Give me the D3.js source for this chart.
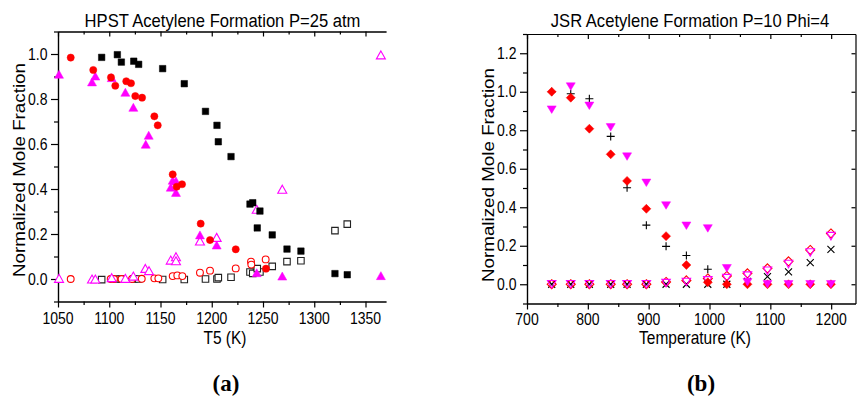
<!DOCTYPE html>
<html><head><meta charset="utf-8">
<script src="https://cdn.jsdelivr.net/npm/d3@7"></script>
<style>body{margin:0;background:#fff}svg{display:block}</style>
</head><body>
<svg id="c" width="857" height="397"></svg>
<script>
// ---------------- DATA ----------------
// (a) HPST, P=25 atm  -- x: T5 (K), y: normalized mole fraction
const hpstTitle = "HPST Acetylene Formation P=25 atm";
const hpstXTicks = [1050,1100,1150,1200,1250,1300,1350];
const hpstYTicks = [0.0,0.2,0.4,0.6,0.8,1.0];

const sqFilledT = [1092.6,1107.9,1111.8,1123.9,1128.7,1152.1,1173.2,1193.9,1205.1,1206.4,1218.8,1237.3,1240.0,1247.0,1244.4,1259.0,1273.4,1287.0,1320.2,1332.2];
const sqFilledV = [0.985,0.997,0.964,0.968,0.954,0.935,0.868,0.745,0.683,0.610,0.544,0.333,0.339,0.302,0.227,0.196,0.133,0.124,0.024,0.019];
const sqOpenT   = [1092.6,1107.9,1111.8,1123.9,1128.7,1152.1,1173.2,1193.9,1205.1,1206.4,1218.8,1237.3,1240.0,1247.0,1244.4,1259.0,1273.4,1287.0,1320.2,1332.2];
const sqOpenV   = [-0.003,0,0,0,0,-0.002,-0.002,0,0,0.006,0.008,0.031,0.025,0.031,0.046,0.056,0.077,0.081,0.215,0.244];

const ciFilledT = [1062.4,1084.4,1101.7,1105.9,1116.6,1121.2,1125.4,1132.0,1144.0,1147.3,1161.9,1165.8,1171.0,1189.2,1198.3,1223.4,1252.9];
const ciFilledV = [0.984,0.929,0.896,0.859,0.879,0.870,0.813,0.806,0.723,0.683,0.465,0.410,0.421,0.246,0.173,0.132,0.046];
const ciOpenT   = [1062.4,1101.4,1104.6,1112.0,1122.2,1131.7,1144.0,1147.9,1161.9,1166.4,1171.3,1188.5,1198.3,1223.4,1238.3,1238.6,1252.6];
const ciOpenV   = [0,0,0,0,0,0.001,0.003,0.003,0.013,0.016,0.013,0.028,0.037,0.047,0.077,0.064,0.087];

const trFilledT = [1051,1083.2,1086.4,1102.4,1115.7,1123.5,1135.6,1138.5,1160.0,1161.9,1165.1,1165.1,1188.5,1204.8,1243.9,1268.8,1365];
const trFilledV = [0.910,0.876,0.902,0.895,0.830,0.763,0.599,0.639,0.408,0.439,0.436,0.385,0.196,0.151,0.028,0.013,0.015];
const trOpenT   = [1051,1083.2,1086.4,1102.4,1115.7,1123.5,1135.2,1138.8,1160.0,1165.1,1165.1,1188.5,1204.8,1243.9,1268.8,1365];
const trOpenV   = [0.003,0,0,0.006,0.003,0.013,0.047,0.037,0.084,0.099,0.081,0.169,0.185,0.310,0.399,0.996];

// (b) JSR, P=10, Phi=4 -- x: Temperature (K)
const jsrTitle = "JSR Acetylene Formation P=10 Phi=4";
const jsrXTicks = [700,800,900,1000,1100,1200];
const jsrYTicks = [0.0,0.2,0.4,0.6,0.8,1.0,1.2];
const jsrT        = [740.6,771.9,802.5,837.6,864.5,896.2,928.6,962.0,997.2,1028.5,1062.4,1095.3,1129.9,1165.6,1199.6];
const diaFilledV  = [1.000,0.969,0.808,0.675,0.537,0.392,0.250,0.100,0.010,0,0,0,0,0,0];
const triDnFilledV= [0.907,1.027,0.927,0.815,0.663,0.527,0.409,0.304,0.290,0.083,0.010,0,0,0,0];
const plusT       = [740.6,771.9,802.5,837.6,864.5,896.2,928.6,962.0,997.2];
const plusV       = [1.000,0.990,0.964,0.768,0.501,0.307,0.197,0.149,0.078];
const crossV      = [0,0,0,0,0,0,0,0,0,0,0.015,0.040,0.064,0.112,0.181];
const diaOpenV    = [0,0,0,0,0,0,0.012,0.020,0.030,0.043,0.057,0.083,0.119,0.178,0.264];
const triDnOpenV  = [0,0,0,0,0,0,0.006,0.012,0.020,0.032,0.045,0.070,0.105,0.165,0.250];

// ---------------- DRAW ----------------
const FONT = "'Liberation Sans', Arial, Helvetica, sans-serif";
const SY = 1.15;
const RED = "#ff0000", MAG = "#ff00ff", BLK = "#000000";
const svg = d3.select("#c");

function label(x, y, s, size, anchor) {
  return svg.append("text")
    .attr("transform", `translate(${x},${y}) scale(1,${SY})`)
    .attr("text-anchor", anchor || "middle")
    .style("font-family", FONT).style("font-size", size + "px").attr("fill", "#000")
    .text(s);
}

const shapes = {
  square: s => `M${-s/2},${-s/2}h${s}v${s}h${-s}Z`,
  triUp: (w,h) => `M0,${-h/2}L${w/2},${h/2}L${-w/2},${h/2}Z`,
  triDn: (w,h) => `M0,${h/2}L${w/2},${-h/2}L${-w/2},${-h/2}Z`,
  diamond: s => `M0,${-s/2}L${s/2},0L0,${s/2}L${-s/2},0Z`,
  plus: s => `M${-s/2},0H${s/2}M0,${-s/2}V${s/2}`,
  cross: s => `M${-s/2},${-s/2}L${s/2},${s/2}M${s/2},${-s/2}L${-s/2},${s/2}`
};

function plotPaths(xs, ys, xsc, ysc, d, fill, stroke, sw) {
  const data = xs.map((x,i)=>[x, ys[i]]);
  svg.append("g").selectAll("path").data(data).join("path")
    .attr("transform", p => `translate(${xsc(p[0])},${ysc(p[1])})`)
    .attr("d", d).attr("fill", fill).attr("stroke", stroke).attr("stroke-width", sw || 1);
}
function plotCircles(xs, ys, xsc, ysc, r, fill, stroke, sw) {
  const data = xs.map((x,i)=>[x, ys[i]]);
  svg.append("g").selectAll("circle").data(data).join("circle")
    .attr("cx", p => xsc(p[0])).attr("cy", p => ysc(p[1])).attr("r", r)
    .attr("fill", fill).attr("stroke", stroke).attr("stroke-width", sw || 1);
}

function axis(gen, tx, ty) {
  const g = svg.append("g").attr("transform", `translate(${tx},${ty})`).call(gen);
  g.selectAll("text").remove();
  g.selectAll("path,line").attr("stroke", "#000").attr("stroke-width", 1.2);
  return g;
}

// ===== Panel (a) =====
const xL = d3.scaleLinear().domain([1050,1370]).range([58,386]);
const yL = d3.scaleLinear().domain([-0.1,1.1]).range([301.5,31.5]);
const xLmaj = d3.range(1050,1371,50), xLmin = d3.range(1075,1370,50);
const yLall = d3.range(-1,12).map(i=>+(i/10).toFixed(1));
const yLmaj = yLall.filter(v=>Math.round(v*10)%2===0), yLmin = yLall.filter(v=>Math.round(v*10)%2!==0);

axis(d3.axisBottom(xL).tickValues(xLmaj).tickSize(6).tickSizeOuter(0), 0, 301.5);
axis(d3.axisBottom(xL).tickValues(xLmin).tickSize(3.5).tickSizeOuter(0), 0, 301.5);
axis(d3.axisTop(xL).tickValues(xLmaj).tickSize(-5).tickSizeOuter(0), 0, 31.5);
axis(d3.axisTop(xL).tickValues(xLmin).tickSize(-3).tickSizeOuter(0), 0, 31.5);
axis(d3.axisLeft(yL).tickValues(yLmaj).tickSize(7).tickSizeOuter(0), 58, 0);
axis(d3.axisLeft(yL).tickValues(yLmin).tickSize(4).tickSizeOuter(0), 58, 0);

hpstXTicks.forEach(v => label(xL(v), 324, String(v), 14, "middle"));
hpstYTicks.forEach(v => label(47.5, yL(v) + 5.5, v.toFixed(1), 14, "end"));

// markers (a)
plotPaths(sqOpenT, sqOpenV, xL, yL, shapes.square(6.5), "#fff", "#222", 1.1);
plotCircles(ciOpenT, ciOpenV, xL, yL, 3.4, "#fff", RED, 1.1);
plotPaths(trOpenT, trOpenV, xL, yL, shapes.triUp(9,8), "#fff", MAG, 1.1);
plotPaths(trFilledT, trFilledV, xL, yL, shapes.triUp(9,8), MAG, MAG, 0.5);
plotCircles(ciFilledT, ciFilledV, xL, yL, 3.6, RED, RED, 0.5);
plotPaths(sqFilledT, sqFilledV, xL, yL, shapes.square(6.5), BLK, BLK, 0.5);

label(222.5, 27, hpstTitle, 16.6, "middle");
label(225, 343.5, "T5 (K)", 15.5, "middle");
svg.append("text")
  .attr("transform", "translate(24.5,170) rotate(-90)")
  .attr("text-anchor", "middle").attr("textLength", 214).attr("lengthAdjust", "spacingAndGlyphs")
  .style("font-family", FONT).style("font-size", "17px").text("Normalized Mole Fraction");

// ===== Panel (b) =====
const xR = d3.scaleLinear().domain([700,1240]).range([527,855.5]);
const yR = d3.scaleLinear().domain([-0.1,1.3]).range([303.5,34]);
const xRmaj = d3.range(700,1241,100), xRmin = d3.range(750,1241,100);
const yRall = d3.range(-1,14).map(i=>+(i/10).toFixed(1));
const yRmaj = yRall.filter(v=>Math.round(v*10)%2===0), yRmin = yRall.filter(v=>Math.round(v*10)%2!==0);

axis(d3.axisBottom(xR).tickValues(xRmaj).tickSize(6).tickSizeOuter(0), 0, 303.5);
axis(d3.axisBottom(xR).tickValues(xRmin).tickSize(3.5).tickSizeOuter(0), 0, 303.5);
axis(d3.axisTop(xR).tickValues(xRmaj).tickSize(-5).tickSizeOuter(0), 0, 34);
axis(d3.axisTop(xR).tickValues(xRmin).tickSize(-3).tickSizeOuter(0), 0, 34);
axis(d3.axisLeft(yR).tickValues(yRmaj).tickSize(7).tickSizeOuter(0), 527, 0);
axis(d3.axisLeft(yR).tickValues(yRmin).tickSize(4).tickSizeOuter(0), 527, 0);
axis(d3.axisRight(yR).tickValues(yRmaj).tickSize(-4).tickSizeOuter(0), 855.5, 0);

jsrXTicks.forEach(v => label(xR(v), 324.5, String(v), 14, "middle"));
jsrYTicks.forEach(v => label(516.5, yR(v) + 5.5, v.toFixed(1), 14, "end"));

// markers (b)
plotPaths(jsrT, crossV, xR, yR, shapes.cross(7), "none", BLK, 1.1);
plotPaths(plusT, plusV, xR, yR, shapes.plus(8), "none", BLK, 1.1);
plotPaths(jsrT, diaOpenV, xR, yR, shapes.diamond(9), "none", RED, 1.1);
plotPaths(jsrT, triDnOpenV, xR, yR, shapes.triDn(8.5,7.5), "none", MAG, 1.1);
plotPaths(jsrT, diaFilledV, xR, yR, shapes.diamond(9), RED, RED, 0.5);
plotPaths(jsrT, triDnFilledV, xR, yR, shapes.triDn(9,7.5), MAG, MAG, 0.5);

label(690, 27, jsrTitle, 16.6, "middle");
label(695, 344, "Temperature (K)", 15.5, "middle");
svg.append("text")
  .attr("transform", "translate(493.5,175) rotate(-90)")
  .attr("text-anchor", "middle").attr("textLength", 214).attr("lengthAdjust", "spacingAndGlyphs")
  .style("font-family", FONT).style("font-size", "17px").text("Normalized Mole Fraction");

// panel letters
svg.append("text").attr("x", 226).attr("y", 391).attr("text-anchor", "middle")
  .style("font-family", "'Liberation Serif','Times New Roman',serif").style("font-weight", "bold").style("font-size", "23px").text("(a)");
svg.append("text").attr("x", 701).attr("y", 391).attr("text-anchor", "middle")
  .style("font-family", "'Liberation Serif','Times New Roman',serif").style("font-weight", "bold").style("font-size", "23px").text("(b)");
</script>
</body></html>
